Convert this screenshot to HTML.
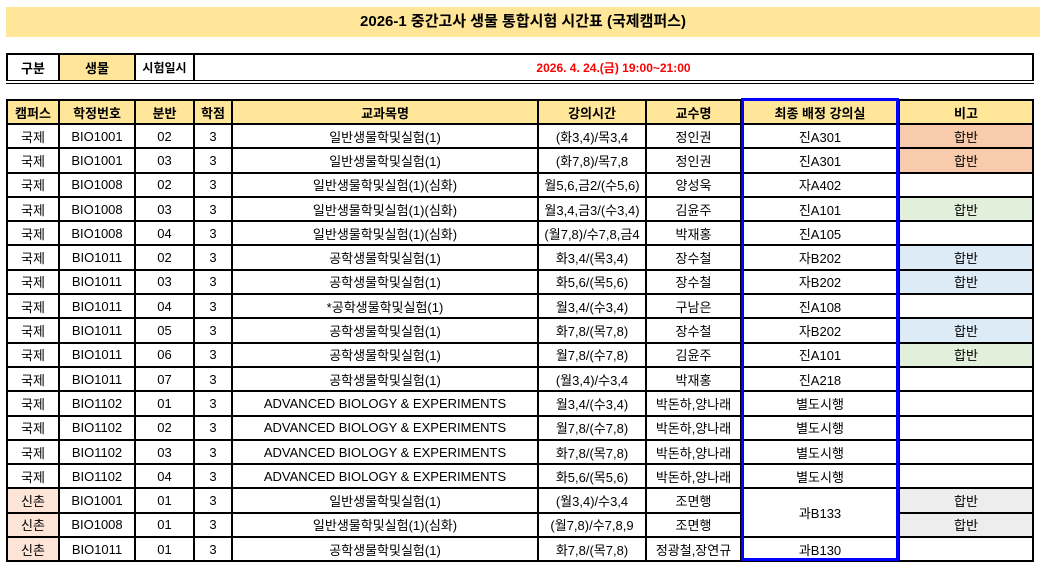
<!DOCTYPE html>
<html><head><meta charset="utf-8"><style>
body{margin:0;width:1048px;height:569px;background:#fff;position:relative;overflow:hidden;font-family:"Liberation Sans","Noto Sans CJK KR",sans-serif;}
.title{position:absolute;left:6px;top:7px;width:1034px;height:30px;background:#ffe699;text-align:center;line-height:30px;font-weight:bold;font-size:15px;}
table{position:absolute;border-collapse:collapse;table-layout:fixed;font-size:13px;}
td{border:2px solid #000;text-align:center;padding:0;white-space:nowrap;overflow:hidden;}
#t1{left:6px;top:53px;width:1028px;}
#t1 td{height:25px;font-weight:bold;}
#t1{border-bottom:4px double #000;}
#t2{left:6px;top:99px;width:1028px;}
#t2 tr.h td{background:#ffe699;font-weight:bold;height:22px;}
#t2 tr.d td{height:22.3px;}
.y{background:#ffe699}
.o{background:#f8cbad}.g{background:#e2efda}.b{background:#ddebf7}.gr{background:#ededed}.s{background:#fce4d6}
.box{position:absolute;left:741px;top:98px;width:152px;height:457px;border:3px solid #0000ff;}
</style></head><body>
<div class="title">2026-1 중간고사 생물 통합시험 시간표 (국제캠퍼스)</div>
<table id="t1"><colgroup><col style="width:52px"><col style="width:76px"><col style="width:59px"><col></colgroup>
<tr><td>구분</td><td class="y">생물</td><td style="font-size:12px">시험일시</td><td style="color:#f00;font-size:12px">2026. 4. 24.(금) 19:00~21:00</td></tr></table>
<table id="t2"><colgroup><col style="width:52px"><col style="width:76px"><col style="width:59px"><col style="width:38px"><col style="width:306px"><col style="width:108px"><col style="width:95px"><col style="width:158px"><col></colgroup>
<tr class="h"><td>캠퍼스</td><td>학정번호</td><td>분반</td><td>학점</td><td>교과목명</td><td>강의시간</td><td>교수명</td><td>최종 배정 강의실</td><td>비고</td></tr>
<tr class="d"><td>국제</td><td>BIO1001</td><td>02</td><td>3</td><td>일반생물학및실험(1)</td><td>(화3,4)/목3,4</td><td>정인권</td><td>진A301</td><td class="o">합반</td></tr>
<tr class="d"><td>국제</td><td>BIO1001</td><td>03</td><td>3</td><td>일반생물학및실험(1)</td><td>(화7,8)/목7,8</td><td>정인권</td><td>진A301</td><td class="o">합반</td></tr>
<tr class="d"><td>국제</td><td>BIO1008</td><td>02</td><td>3</td><td>일반생물학및실험(1)(심화)</td><td>월5,6,금2/(수5,6)</td><td>양성욱</td><td>자A402</td><td></td></tr>
<tr class="d"><td>국제</td><td>BIO1008</td><td>03</td><td>3</td><td>일반생물학및실험(1)(심화)</td><td>월3,4,금3/(수3,4)</td><td>김윤주</td><td>진A101</td><td class="g">합반</td></tr>
<tr class="d"><td>국제</td><td>BIO1008</td><td>04</td><td>3</td><td>일반생물학및실험(1)(심화)</td><td>(월7,8)/수7,8,금4</td><td>박재홍</td><td>진A105</td><td></td></tr>
<tr class="d"><td>국제</td><td>BIO1011</td><td>02</td><td>3</td><td>공학생물학및실험(1)</td><td>화3,4/(목3,4)</td><td>장수철</td><td>자B202</td><td class="b">합반</td></tr>
<tr class="d"><td>국제</td><td>BIO1011</td><td>03</td><td>3</td><td>공학생물학및실험(1)</td><td>화5,6/(목5,6)</td><td>장수철</td><td>자B202</td><td class="b">합반</td></tr>
<tr class="d"><td>국제</td><td>BIO1011</td><td>04</td><td>3</td><td>*공학생물학및실험(1)</td><td>월3,4/(수3,4)</td><td>구남은</td><td>진A108</td><td></td></tr>
<tr class="d"><td>국제</td><td>BIO1011</td><td>05</td><td>3</td><td>공학생물학및실험(1)</td><td>화7,8/(목7,8)</td><td>장수철</td><td>자B202</td><td class="b">합반</td></tr>
<tr class="d"><td>국제</td><td>BIO1011</td><td>06</td><td>3</td><td>공학생물학및실험(1)</td><td>월7,8/(수7,8)</td><td>김윤주</td><td>진A101</td><td class="g">합반</td></tr>
<tr class="d"><td>국제</td><td>BIO1011</td><td>07</td><td>3</td><td>공학생물학및실험(1)</td><td>(월3,4)/수3,4</td><td>박재홍</td><td>진A218</td><td></td></tr>
<tr class="d"><td>국제</td><td>BIO1102</td><td>01</td><td>3</td><td>ADVANCED BIOLOGY &amp; EXPERIMENTS</td><td>월3,4/(수3,4)</td><td>박돈하,양나래</td><td>별도시행</td><td></td></tr>
<tr class="d"><td>국제</td><td>BIO1102</td><td>02</td><td>3</td><td>ADVANCED BIOLOGY &amp; EXPERIMENTS</td><td>월7,8/(수7,8)</td><td>박돈하,양나래</td><td>별도시행</td><td></td></tr>
<tr class="d"><td>국제</td><td>BIO1102</td><td>03</td><td>3</td><td>ADVANCED BIOLOGY &amp; EXPERIMENTS</td><td>화7,8/(목7,8)</td><td>박돈하,양나래</td><td>별도시행</td><td></td></tr>
<tr class="d"><td>국제</td><td>BIO1102</td><td>04</td><td>3</td><td>ADVANCED BIOLOGY &amp; EXPERIMENTS</td><td>화5,6/(목5,6)</td><td>박돈하,양나래</td><td>별도시행</td><td></td></tr>
<tr class="d"><td class="s">신촌</td><td>BIO1001</td><td>01</td><td>3</td><td>일반생물학및실험(1)</td><td>(월3,4)/수3,4</td><td>조면행</td><td rowspan="2">과B133</td><td class="gr">합반</td></tr>
<tr class="d"><td class="s">신촌</td><td>BIO1008</td><td>01</td><td>3</td><td>일반생물학및실험(1)(심화)</td><td>(월7,8)/수7,8,9</td><td>조면행</td><td class="gr">합반</td></tr>
<tr class="d"><td class="s">신촌</td><td>BIO1011</td><td>01</td><td>3</td><td>공학생물학및실험(1)</td><td>화7,8/(목7,8)</td><td>정광철,장연규</td><td>과B130</td><td></td></tr>
</table>
<div class="box"></div>
</body></html>
